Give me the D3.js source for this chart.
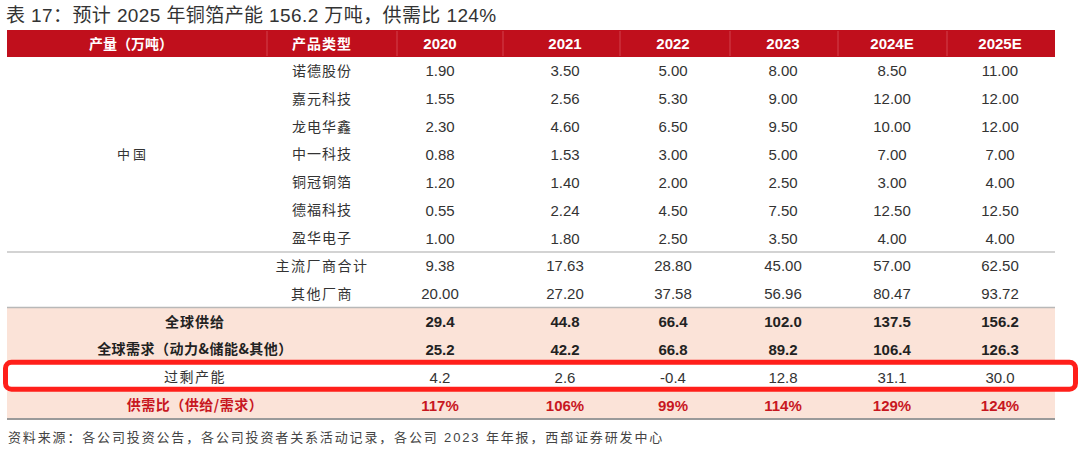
<!DOCTYPE html>
<html>
<head>
<meta charset="utf-8">
<script src="https://cdn.jsdelivr.net/npm/d3@7"></script>
<style>
    body { margin: 0; background: #fff; }
    .cn { font-family: "Noto Sans CJK SC", sans-serif; }
    .num { font-family: "Liberation Sans", Arial, sans-serif; }
</style>
</head>
<body>
<script>
//wrap everything in a self-executing anonymous function
(function(){

//table data
var years = ["2020", "2021", "2022", "2023", "2024E", "2025E"];
var companies = ["诺德股份", "嘉元科技", "龙电华鑫", "中一科技", "铜冠铜箔", "德福科技", "盈华电子"];
var companyValues = [
    ["1.90", "3.50", "5.00", "8.00", "8.50", "11.00"],
    ["1.55", "2.56", "5.30", "9.00", "12.00", "12.00"],
    ["2.30", "4.60", "6.50", "9.50", "10.00", "12.00"],
    ["0.88", "1.53", "3.00", "5.00", "7.00", "7.00"],
    ["1.20", "1.40", "2.00", "2.50", "3.00", "4.00"],
    ["0.55", "2.24", "4.50", "7.50", "12.50", "12.50"],
    ["1.00", "1.80", "2.50", "3.50", "4.00", "4.00"]
];
var subtotalLabels = ["主流厂商合计", "其他厂商"];
var subtotalValues = [
    ["9.38", "17.63", "28.80", "45.00", "57.00", "62.50"],
    ["20.00", "27.20", "37.58", "56.96", "80.47", "93.72"]
];
var summaryLabels = ["全球供给", "全球需求（动力&储能&其他）", "过剩产能", "供需比（供给/需求）"];
var supply = ["29.4", "44.8", "66.4", "102.0", "137.5", "156.2"];
var demand = ["25.2", "42.2", "66.8", "89.2", "106.4", "126.3"];
var surplus = ["4.2", "2.6", "-0.4", "12.8", "31.1", "30.0"];
var ratio = ["117%", "106%", "99%", "114%", "129%", "124%"];

var titleText = "表 17：预计 2025 年铜箔产能 156.2 万吨，供需比 124%";
var sourceText = "资料来源：各公司投资公告，各公司投资者关系活动记录，各公司 2023 年年报，西部证券研发中心";

//colours
var headRed = "#c00f1c",
    shade = "#fbe3d8",
    boxRed = "#ff1f1a",
    textDark = "#333333";

window.onload = setTable();

function setTable(){
    var width = 1080,
        height = 452,
        left = 7,
        right = 1055,
        headTop = 30,
        headBottom = 57,
        bodyBottom = 419;

    var svg = d3.select("body")
        .append("svg")
        .attr("width", width)
        .attr("height", height);

    //row scale for all body rows (7 companies + 2 subtotals + 4 summary)
    var nRows = companies.length + subtotalLabels.length + summaryLabels.length;
    var y = d3.scaleBand()
        .domain(d3.range(nRows))
        .range([headBottom, bodyBottom]);

    //column text positions
    var x = d3.scaleOrdinal()
        .domain(years)
        .range([440, 565, 673, 783, 892, 1000]);
    var xRegion = 133,
        xType = 322,
        xMerged = 195;

    //title
    svg.append("text")
        .attr("x", left - 1)
        .attr("y", 22)
        .style("font-size", "19px")
        .style("letter-spacing", "0.4px")
        .style("fill", textDark)
        .style("font-family", "'Liberation Sans', 'Noto Sans CJK SC', sans-serif")
        .text(titleText);

    //shaded summary block
    var sumStart = companies.length + subtotalLabels.length;
    svg.append("rect")
        .attr("x", left)
        .attr("y", y(sumStart))
        .attr("width", right - left)
        .attr("height", bodyBottom - y(sumStart))
        .style("fill", shade);

    //surplus row stays white
    svg.append("rect")
        .attr("x", left)
        .attr("y", y(sumStart + 2))
        .attr("width", right - left)
        .attr("height", y.bandwidth())
        .style("fill", "#fff");

    //header bar
    svg.append("rect")
        .attr("x", left)
        .attr("y", headTop)
        .attr("width", right - left)
        .attr("height", headBottom - headTop)
        .style("fill", headRed);

    //faint header dividers
    svg.selectAll(".headDiv")
        .data([267, 397, 503, 620, 730, 838, 947])
        .enter()
        .append("line")
        .attr("class", "headDiv")
        .attr("x1", function(d){ return d; })
        .attr("x2", function(d){ return d; })
        .attr("y1", headTop + 1)
        .attr("y2", headBottom - 1)
        .style("stroke", "#d2434c")
        .style("stroke-width", 1);

    var headMid = (headTop + headBottom) / 2 + 5;
    svg.append("text")
        .attr("class", "cn")
        .attr("x", xRegion - 2)
        .attr("y", headMid)
        .attr("text-anchor", "middle")
        .style("font-size", "14px")
        .style("font-weight", "bold")
        .style("fill", "#fff")
        .text("产量（万吨）");
    svg.append("text")
        .attr("class", "cn")
        .attr("x", xType)
        .attr("y", headMid)
        .attr("text-anchor", "middle")
        .style("font-size", "14px")
        .style("font-weight", "bold")
        .style("letter-spacing", "1px")
        .style("fill", "#fff")
        .text("产品类型");
    svg.selectAll(".yearHead")
        .data(years)
        .enter()
        .append("text")
        .attr("class", "yearHead num")
        .attr("x", function(d){ return x(d); })
        .attr("y", headMid + 0.5)
        .attr("text-anchor", "middle")
        .style("font-size", "15px")
        .style("font-weight", "bold")
        .style("fill", "#fff")
        .text(function(d){ return d; });

    //build the list of body rows
    var rows = [];
    companies.forEach(function(c, i){
        rows.push({label: c, values: companyValues[i], x: xType, weight: "normal", color: textDark, spacing: "1px"});
    });
    subtotalLabels.forEach(function(c, i){
        rows.push({label: c, values: subtotalValues[i], x: xType, weight: "normal", color: textDark, spacing: "1.5px"});
    });
    rows.push({label: summaryLabels[0], values: supply, x: xMerged, weight: "bold", color: "#222", spacing: "1px"});
    rows.push({label: summaryLabels[1], values: demand, x: xMerged, weight: "bold", color: "#222", spacing: "0.5px"});
    rows.push({label: summaryLabels[2], values: surplus, x: xMerged, weight: "normal", color: textDark, spacing: "1.5px"});
    rows.push({label: summaryLabels[3], values: ratio, x: xMerged, weight: "bold", color: "#c8171f", spacing: "0.5px"});

    var rowG = svg.selectAll(".row")
        .data(rows)
        .enter()
        .append("g")
        .attr("class", "row")
        .attr("transform", function(d, i){
            return "translate(0," + (y(i) + y.bandwidth() / 2 + 5) + ")";
        });

    rowG.append("text")
        .attr("class", "cn")
        .attr("x", function(d){ return d.x; })
        .attr("text-anchor", "middle")
        .style("font-size", "14px")
        .style("font-weight", function(d){ return d.weight; })
        .style("letter-spacing", function(d){ return d.spacing; })
        .style("fill", function(d){ return d.color; })
        .text(function(d){ return d.label; });

    rowG.selectAll(".val")
        .data(function(d){
            return d.values.map(function(v, j){ return {v: v, year: years[j], row: d}; });
        })
        .enter()
        .append("text")
        .attr("class", "val num")
        .attr("x", function(d){ return x(d.year); })
        .attr("y", 0.5)
        .attr("text-anchor", "middle")
        .style("font-size", "15px")
        .style("font-weight", function(d){ return d.row.weight; })
        .style("fill", function(d){ return d.row.color; })
        .text(function(d){ return d.v; });

    //region label spanning the company rows
    svg.append("text")
        .attr("class", "cn")
        .attr("x", xRegion)
        .attr("y", y(3) + y.bandwidth() / 2 + 5)
        .attr("text-anchor", "middle")
        .style("font-size", "13px")
        .style("letter-spacing", "3px")
        .style("fill", textDark)
        .text("中国");

    //horizontal rules
    var rules = [
        {y: y(companies.length), w: 1.5, c: "#c4c4c4"},
        {y: y(sumStart), w: 1.5, c: "#b8b8b8"},
        {y: bodyBottom, w: 2, c: "#9a9a9a"}
    ];
    svg.selectAll(".rule")
        .data(rules)
        .enter()
        .append("line")
        .attr("class", "rule")
        .attr("x1", left)
        .attr("x2", right)
        .attr("y1", function(d){ return d.y; })
        .attr("y2", function(d){ return d.y; })
        .style("stroke", function(d){ return d.c; })
        .style("stroke-width", function(d){ return d.w; });

    //highlight box around the surplus row
    svg.append("rect")
        .attr("x", 5.5)
        .attr("y", y(sumStart + 2) - 1)
        .attr("width", 1070)
        .attr("height", y.bandwidth() - 1)
        .attr("rx", 6)
        .style("fill", "none")
        .style("stroke", boxRed)
        .style("stroke-width", 5);

    //source note
    svg.append("text")
        .attr("x", left + 1)
        .attr("y", 442)
        .style("font-size", "13px")
        .style("letter-spacing", "1.85px")
        .style("fill", "#444")
        .style("font-family", "'Liberation Sans', 'Noto Sans CJK SC', sans-serif")
        .text(sourceText);
};

})();
</script>
</body>
</html>
